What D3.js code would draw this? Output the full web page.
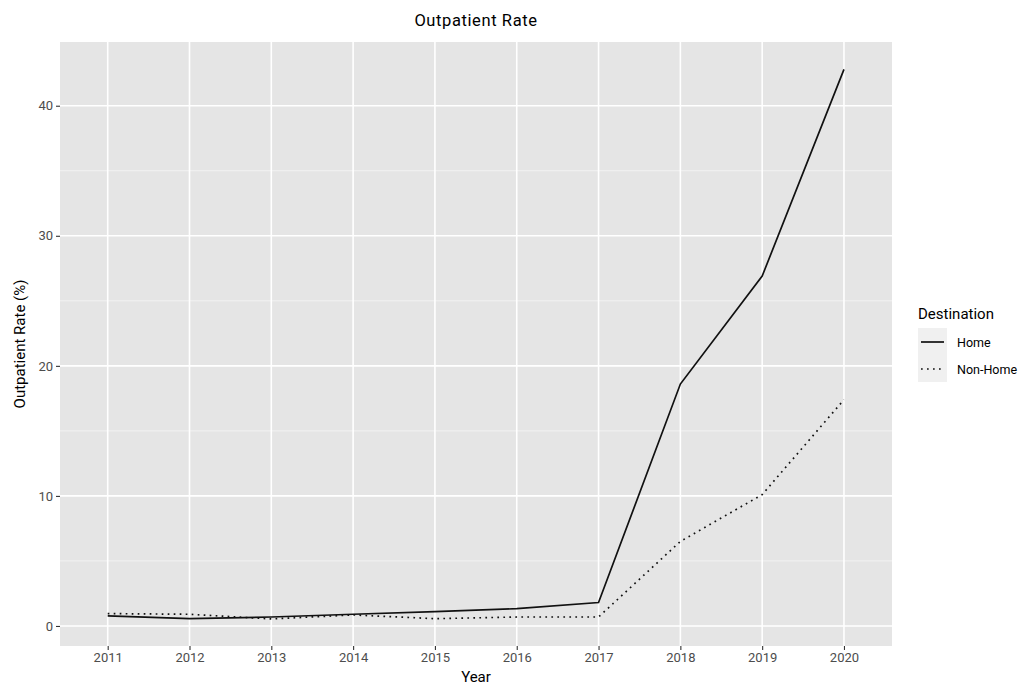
<!DOCTYPE html>
<html><head><meta charset="utf-8">
<script src="https://cdn.jsdelivr.net/npm/d3@7"></script>
<style>body{margin:0;background:#fff;} text{font-family:Roboto,"Liberation Sans",Arial,sans-serif;}</style>
</head><body>
<svg id="chart" width="1029" height="685"></svg>
<script>
const years = [2011,2012,2013,2014,2015,2016,2017,2018,2019,2020];
const homeValues = [0.77,0.56,0.69,0.9,1.1,1.33,1.8,18.6,26.9,42.8];
const nonHomeValues = [0.95,0.9,0.54,0.85,0.56,0.69,0.69,6.5,10.1,17.4];
const seriesNames = ["Home","Non-Home"];
const yTicks = [0,10,20,30,40];
const yMinor = [5,15,25,35];

const svg = d3.select("#chart");
const L=60,R=892,T=42,B=646;
const x = d3.scaleLinear().domain([2010.417,2020.587]).range([L,R]);
const y = d3.scaleLinear().domain([-1.54,44.9]).range([B,T]);

svg.append("rect").attr("x",L).attr("y",T).attr("width",R-L).attr("height",B-T).attr("fill","#e5e5e5");
// minor grid
svg.selectAll(".ymin").data(yMinor).join("line").attr("x1",L).attr("x2",R)
  .attr("y1",d=>y(d)).attr("y2",d=>y(d)).attr("stroke","#f2f2f2").attr("stroke-width",1);
svg.selectAll(".ymaj").data(yTicks).join("line").attr("x1",L).attr("x2",R)
  .attr("y1",d=>y(d)).attr("y2",d=>y(d)).attr("stroke","#fff").attr("stroke-width",1.6);
svg.selectAll(".xmaj").data(years).join("line").attr("y1",T).attr("y2",B)
  .attr("x1",d=>x(d)).attr("x2",d=>x(d)).attr("stroke","#fff").attr("stroke-width",1.6);

// axes
const xa = svg.append("g").attr("transform",`translate(0,${B})`)
  .call(d3.axisBottom(x).tickValues(years).tickFormat(d3.format("d")).tickSize(4).tickPadding(3));
const ya = svg.append("g").attr("transform",`translate(${L},0)`)
  .call(d3.axisLeft(y).tickValues(yTicks).tickSize(4).tickPadding(3));
[xa,ya].forEach(a=>{a.select(".domain").remove();
  a.selectAll(".tick line").attr("stroke","#333").attr("stroke-width",1.1);
  a.selectAll(".tick text").attr("fill","#4d4d4d").style("font-size","13px").style("font-family","Roboto,'Liberation Sans',sans-serif");});

const line = d3.line().x((d,i)=>x(years[i])).y(d=>y(d));
svg.append("path").datum(homeValues).attr("d",line).attr("fill","none").attr("stroke","#111").attr("stroke-width",1.7);
svg.append("path").datum(nonHomeValues).attr("d",line).attr("fill","none").attr("stroke","#111").attr("stroke-width",1.7).attr("stroke-dasharray","1.7,4.3");

// titles
svg.append("text").attr("x",(L+R)/2).attr("y",26).attr("text-anchor","middle").style("font-size","16.5px").style("letter-spacing","0.6px").attr("fill","#000").text("Outpatient Rate");
svg.append("text").attr("x",(L+R)/2).attr("y",682).attr("text-anchor","middle").style("font-size","15px").attr("fill","#000").text("Year");
svg.append("text").attr("transform",`translate(25,${(T+B)/2}) rotate(-90)`).attr("text-anchor","middle").style("font-size","15px").attr("fill","#000").text("Outpatient Rate (%)");

// legend
svg.append("text").attr("x",918).attr("y",319).style("font-size","15px").attr("fill","#000").text("Destination");
svg.append("rect").attr("x",918).attr("y",328).attr("width",29).attr("height",54).attr("fill","#f0f0f0");
const ly = [342,369];
seriesNames.forEach((n,i)=>{
  svg.append("line").attr("x1",921).attr("x2",944).attr("y1",ly[i]).attr("y2",ly[i])
    .attr("stroke","#111").attr("stroke-width",1.7).attr("stroke-dasharray",i? "1.7,4.3":null);
  svg.append("text").attr("x",957).attr("y",ly[i]+4.5).style("font-size","12.5px").attr("fill","#000").text(n);
});
</script>
</body></html>
